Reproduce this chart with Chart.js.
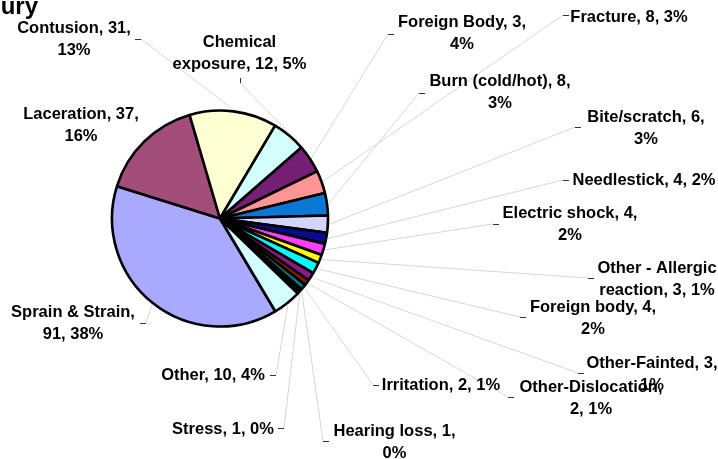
<!DOCTYPE html>
<html>
<head>
<meta charset="utf-8">
<script src="https://cdn.jsdelivr.net/npm/chart.js@4/dist/chart.umd.min.js"></script>
<style>
    html, body { margin: 0; padding: 0; background: #fff; }
    canvas { display: block; }
</style>
</head>
<body>
<canvas id="injuryPie" width="718" height="459"></canvas>
<script>
// data
const categories = ["Sprain & Strain", "Laceration", "Contusion", "Chemical exposure", "Foreign Body",
    "Fracture", "Burn (cold/hot)", "Bite/scratch", "Needlestick", "Electric shock",
    "Other - Allergic reaction", "Foreign body", "Other-Fainted", "Other-Dislocation",
    "Irritation", "Hearing loss", "Stress", "Other"];
const counts = [91, 37, 31, 12, 10, 8, 8, 6, 4, 4, 3, 4, 3, 2, 2, 1, 1, 10];
// count as printed in the label (Foreign Body reads 3 although its slice is 4%)
const printedCounts = [91, 37, 31, 12, 3, 8, 8, 6, 4, 4, 3, 4, 3, 2, 2, 1, 1, 10];
const percents = [38, 16, 13, 5, 4, 3, 3, 3, 2, 2, 1, 2, 1, 1, 1, 0, 0, 4];

const colors = ["#a9a9ff", "#a34d7a", "#ffffd4", "#d4ffff", "#771e77", "#ff9494", "#0a78d4",
    "#d4d4ff", "#0a0a8c", "#ff3dff", "#ffff00", "#00ffff", "#8a1a8a", "#8b1a0a",
    "#008080", "#0000ff", "#00ccff", "#d4ffff"];

// label layout: [centre x, first baseline], words on first line (0 = one line)
const labelPos = [[73, 317], [81, 119], [74, 33], [239.5, 47], [462, 27], [629, 22], [500, 86],
    [646, 122], [644, 185], [570, 218], [657, 273], [593, 312], [652, 368], [591, 392],
    [441, 390], [394.5, 436], [223, 434], [213, 380]];
const breakAfter = [3, 2, 2, 1, 3, 0, 3, 2, 0, 3, 3, 3, 2, 1, 0, 3, 0, 0];
// where the leader line meets the label, and which way the small tick runs
const leaderEnd = [[146, 323, "l"], null, [141, 39, "l"], [240, 83, "u"], [388, 34, "r"],
    [563, 15, "r"], [419, 93, "r"], [575, 127, "r"], [563, 180, "r"], [493, 224, "r"],
    [588, 278, "r"], [520, 317, "r"], [578, 373, "r"], [508, 397, "r"], [373, 385, "r"],
    [323, 441, "r"], [284, 428, "l"], [276, 375, "l"]];

const labelFont = "bold 16.5px 'Liberation Sans', Arial, sans-serif";

const pieLabels = {
    id: "pieLabels",
    afterDatasetsDraw(chart) {
        const ctx = chart.ctx;
        const arcs = chart.getDatasetMeta(0).data;
        ctx.save();

        // leader lines
        arcs.forEach((arc, i) => {
            const end = leaderEnd[i];
            if (!end) return;
            const mid = (arc.startAngle + arc.endAngle) / 2;
            const r = arc.outerRadius + 1.5;
            ctx.strokeStyle = "#d6d6d6";
            ctx.lineWidth = 1;
            ctx.beginPath();
            ctx.moveTo(arc.x + r * Math.cos(mid), arc.y + r * Math.sin(mid));
            ctx.lineTo(end[0], end[1]);
            ctx.stroke();

            ctx.fillStyle = "#333";
            if (end[2] === "r") ctx.fillRect(end[0], end[1], 6, 1);
            else if (end[2] === "l") ctx.fillRect(end[0] - 6, end[1], 6, 1);
            else ctx.fillRect(end[0], end[1] - 5, 1, 5);
        });

        // label text
        ctx.font = labelFont;
        ctx.fillStyle = "#000";
        ctx.textAlign = "center";
        ctx.textBaseline = "alphabetic";
        categories.forEach((name, i) => {
            const words = (name + ", " + printedCounts[i] + ", " + percents[i] + "%").split(" ");
            const n = breakAfter[i];
            const lines = n ? [words.slice(0, n).join(" "), words.slice(n).join(" ")] : [words.join(" ")];
            lines.forEach((line, k) => {
                ctx.fillText(line, labelPos[i][0], labelPos[i][1] + k * 21.5);
            });
        });

        // title, pushed mostly off the left edge as in the original
        ctx.font = "bold 24px 'Liberation Sans', Arial, sans-serif";
        ctx.textAlign = "right";
        ctx.fillText("Type of Injury", 38, 13.5);
        ctx.restore();
    }
};

const ctx = document.querySelector("#injuryPie");

new Chart(ctx, {
    type: "pie",
    data: {
        labels: categories,
        datasets: [
            {
                data: counts,
                backgroundColor: colors,
                borderColor: "#000",
                borderWidth: 2.6,
                radius: 108
            }
        ]
    },
    options: {
        responsive: false,
        animation: false,
        rotation: 149.2,
        layout: {
            padding: { left: 0, top: 0, right: 278, bottom: 22 }
        },
        plugins: {
            legend: { display: false },
            tooltip: { enabled: false }
        }
    },
    plugins: [pieLabels]
});
</script>
</body>
</html>
